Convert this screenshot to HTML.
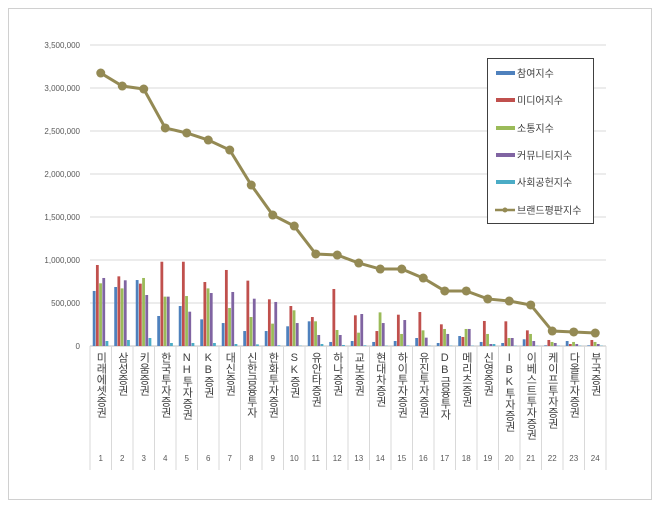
<!DOCTYPE html>
<html><head><meta charset="utf-8">
<style>
body{margin:0;background:#fff;font-family:"Liberation Sans","Noto Sans CJK KR",sans-serif;}
svg text{font-family:"Liberation Sans","Noto Sans CJK KR",sans-serif;}
</style></head>
<body>
<svg id="chart" width="660" height="508">
<rect x="8.5" y="8.5" width="643" height="491" fill="#fff" stroke="#d0d0d0"/>
<g id="grid"></g><g id="bars"></g><g id="line"></g><g id="labels"></g>
<g>
<rect x="487.5" y="58.5" width="106" height="165" fill="#fff" stroke="#404040"/>
<g id="legend"></g>
</g>
</svg>
<script>
const categories=["미래에셋증권","삼성증권","키움증권","한국투자증권","NH투자증권","KB증권","대신증권","신한금융투자","한화투자증권","SK증권","유안타증권","하나증권","교보증권","현대차증권","하이투자증권","유진투자증권","DB금융투자","메리츠증권","신영증권","IBK투자증권","이베스트투자증권","케이프투자증권","다올투자증권","부국증권"];
const participation=[640000,686000,767000,349000,465000,310000,267000,174000,174000,229000,287000,47000,58000,47000,58000,93000,35000,116000,47000,35000,78000,8000,58000,8000];
const media=[942000,810000,725000,980000,980000,744000,884000,760000,543000,465000,337000,663000,357000,174000,364000,395000,252000,105000,291000,287000,182000,70000,23000,70000];
const communication=[729000,670000,791000,574000,581000,670000,442000,337000,260000,415000,287000,186000,155000,391000,140000,182000,198000,198000,140000,93000,140000,47000,47000,47000];
const community=[791000,764000,593000,574000,399000,616000,628000,550000,512000,267000,128000,128000,372000,267000,302000,97000,140000,198000,23000,93000,58000,35000,23000,23000];
const social=[58000,70000,93000,35000,35000,35000,23000,19000,8000,4000,23000,12000,8000,4000,6000,4000,4000,4000,23000,4000,4000,4000,4000,4000];
const brandIndex=[3174000,3023000,2988000,2535000,2477000,2395000,2279000,1872000,1523000,1395000,1070000,1058000,965000,895000,895000,790000,640000,640000,547000,523000,477000,174000,163000,151000];
const yTicks=[0,500000,1000000,1500000,2000000,2500000,3000000,3500000];
const seriesNames=["참여지수","미디어지수","소통지수","커뮤니티지수","사회공헌지수","브랜드평판지수"];

const NS="http://www.w3.org/2000/svg";
const colors=["#4F81BD","#C0504D","#9BBB59","#8064A2","#4BACC6","#948A54"];
const x0=90,x1=606,y0=346,yTop=45,yMax=3500000;
const step=(x1-x0)/categories.length;
const yS=v=>y0-(v/yMax)*(y0-yTop);
const xC=i=>x0+step*(i+0.5);
function mk(tag,attrs,parent){const e=document.createElementNS(NS,tag);for(const k in attrs)e.setAttribute(k,attrs[k]);parent.appendChild(e);return e;}
const grid=document.getElementById('grid');
yTicks.forEach(t=>{
  const l=mk('line',{x1:x0,x2:x1,y1:yS(t),y2:yS(t),stroke:t===0?'#bfbfbf':'#d9d9d9'},grid);
  
  
  const tx=mk('text',{x:80,y:yS(t)+3,'text-anchor':'end','font-size':'8',fill:'#595959'},grid);
  tx.textContent=t.toLocaleString('en-US');
  
  
});
for(let i=0;i<=categories.length;i++){
  const l=mk('line',{x1:x0+step*i,x2:x0+step*i,y1:y0,y2:470,stroke:'#d9d9d9'},grid);
  
  
}
const bars=document.getElementById('bars');
const series=[participation,media,communication,community,social];
const bw=3.2;
categories.forEach((c,i)=>{
  series.forEach((s,j)=>{
    const x=xC(i)-2.5*bw+j*bw;
    const r=mk('rect',{x:x,y:yS(s[i]),width:bw-0.4,height:y0-yS(s[i]),fill:colors[j]},bars);
    
    
  });
});
const lg=document.getElementById('line');
const pts=brandIndex.map((v,i)=>xC(i)+','+yS(v)).join(' ');
const pl=mk('polyline',{points:pts,fill:'none',stroke:colors[5],'stroke-width':3},lg);


brandIndex.forEach((v,i)=>{
  const c=mk('circle',{cx:xC(i),cy:yS(v),r:4.5,fill:colors[5]},lg);
  
  
});
const lb=document.getElementById('labels');
categories.forEach((c,i)=>{
  const t=mk('text',{x:xC(i),y:352,'font-size':'11',fill:'#404040',style:'writing-mode:vertical-rl;text-orientation:upright;letter-spacing:0px'},lb);
  t.textContent=c;
  
  
  const n=mk('text',{x:xC(i),y:461,'text-anchor':'middle','font-size':'8',fill:'#595959'},lb);
  n.textContent=String(i+1);
  
  
});
const leg=document.getElementById('legend');
const legY=[73,100,128,155,182,210];
seriesNames.forEach((nm,j)=>{
  const y=legY[j];
  if(j<5){const r=mk('rect',{x:496,y:y-2,width:19,height:4,fill:colors[j]},leg);
    
    }
  else{mk('line',{x1:495,x2:515,y1:y,y2:y,stroke:colors[5],'stroke-width':2.5},leg);
    const c=mk('circle',{cx:505,cy:y,r:2.5,fill:colors[5]},leg);
    
    }
  const t=mk('text',{x:517,y:y+4,'font-size':'10',fill:'#404040'},leg);
  t.textContent=nm;
  
  
});
</script>
</body></html>
